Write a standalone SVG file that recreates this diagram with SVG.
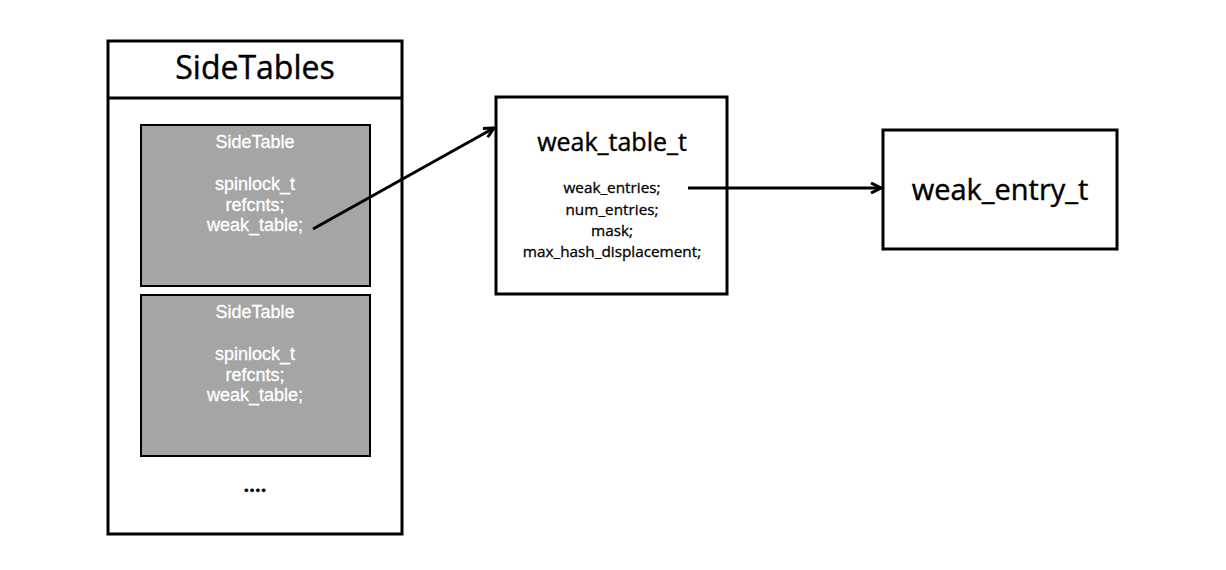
<svg xmlns="http://www.w3.org/2000/svg" width="1226" height="570" viewBox="0 0 1226 570">
<defs>
<style>
text{font-family:"Open Sans","Noto Sans",sans-serif;text-anchor:middle;}
.box{fill:#fff;stroke:#000;stroke-width:3;}
.gray{fill:#a5a5a5;stroke:#000;stroke-width:2;}
.wt{font-family:"Liberation Sans",Arial,sans-serif;fill:#fff;stroke:#fff;stroke-width:0.3;font-size:18px;}
.bt{fill:#000;stroke:#000;stroke-width:0.4;}
.fld{fill:#000;stroke:#000;stroke-width:0.3;font-size:15.3px;}
.conn{fill:none;stroke:#000;stroke-width:3;}
</style>
<marker id="arr" viewBox="0 0 12 12" refX="11" refY="6" markerWidth="12" markerHeight="12" markerUnits="userSpaceOnUse" orient="auto">
<path d="M1,1 L11,6 L1,11" fill="none" stroke="#000" stroke-width="3" stroke-linejoin="miter"/>
</marker>
</defs>
<rect width="1226" height="570" fill="#fff"/>
<g id="sidetables">
<rect class="box" x="108" y="41" width="294" height="493"/>
<line x1="108" y1="98" x2="402" y2="98" stroke="#000" stroke-width="3"/>
<text class="bt" x="255" y="79" font-size="32">SideTables</text>
<text class="bt" x="255" y="492" font-size="20" font-weight="700">....</text>
</g>
<g id="sidetable1">
<rect class="gray" x="141" y="125" width="229" height="161"/>
<text class="wt" x="255" y="148">SideTable</text>
<text class="wt" x="255" y="190">spinlock_t</text>
<text class="wt" x="255" y="210.5">refcnts;</text>
<text class="wt" x="255" y="231">weak_table;</text>
</g>
<g id="sidetable2">
<rect class="gray" x="141" y="295" width="229" height="161"/>
<text class="wt" x="255" y="318">SideTable</text>
<text class="wt" x="255" y="360">spinlock_t</text>
<text class="wt" x="255" y="380.5">refcnts;</text>
<text class="wt" x="255" y="401">weak_table;</text>
</g>
<g id="weak_table_t">
<rect class="box" x="496" y="97" width="231" height="197"/>
<text class="bt" x="612" y="151" font-size="25">weak_table_t</text>
<text class="fld" x="612" y="193">weak_entries; </text>
<text class="fld" x="612" y="214.5">num_entries;</text>
<text class="fld" x="612" y="235.5">mask;</text>
<text class="fld" x="612" y="257">max_hash_displacement;</text>
</g>
<g id="weak_entry_t">
<rect class="box" x="883" y="130" width="234" height="119"/>
<text class="bt" x="1000" y="200" font-size="29">weak_entry_t</text>
</g>
<g id="connectors">
<line class="conn" x1="313" y1="229" x2="494" y2="128" marker-end="url(#arr)"/>
<line class="conn" x1="688" y1="188" x2="881" y2="188" marker-end="url(#arr)"/>
</g>
</svg>
